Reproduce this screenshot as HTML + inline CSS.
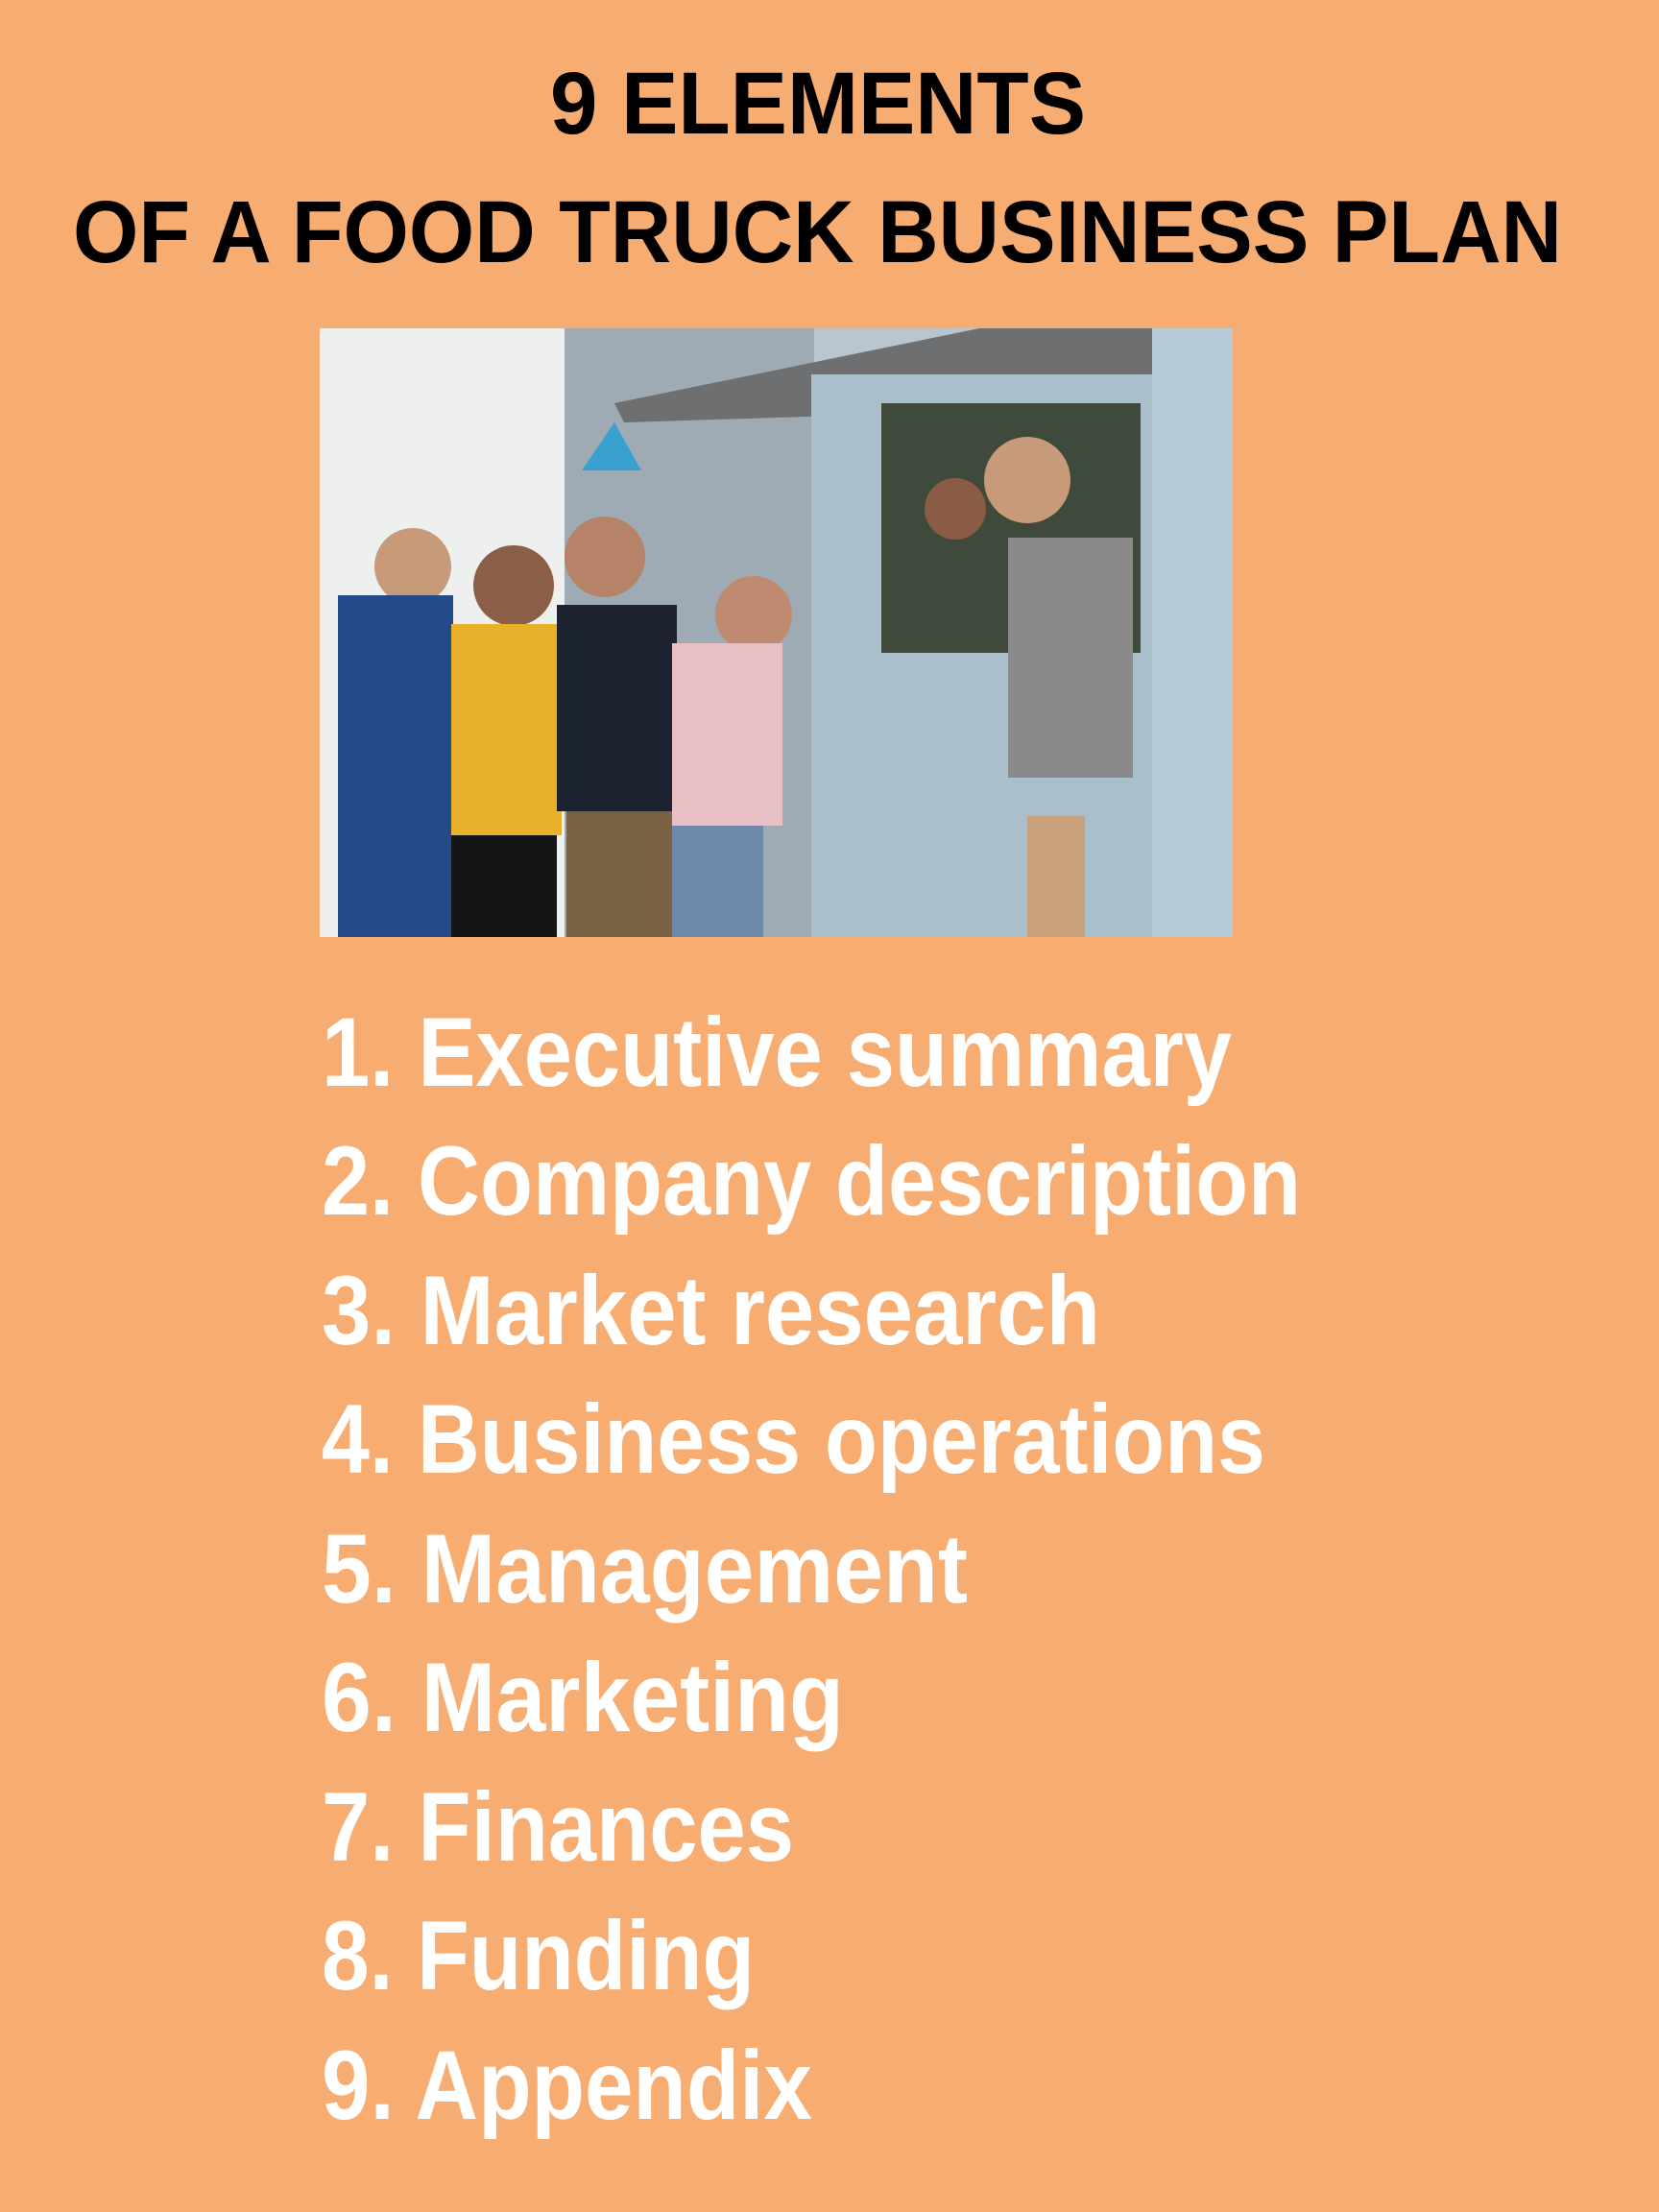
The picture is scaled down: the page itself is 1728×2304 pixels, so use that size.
<!DOCTYPE html>
<html><head><meta charset="utf-8"><style>
html,body{margin:0;padding:0;background:#F7AD71;}
svg{display:block}
</style></head><body>
<svg width="1728" height="2304" viewBox="0 0 1728 2304" xmlns="http://www.w3.org/2000/svg">
<rect width="1728" height="2304" fill="#F7AD71"/>
<g font-family="Liberation Sans, sans-serif" font-weight="bold" fill="#000">
<text x="573" y="139" font-size="92" textLength="558" lengthAdjust="spacingAndGlyphs">9 ELEMENTS</text>
<text x="76" y="273" font-size="92" textLength="1551" lengthAdjust="spacingAndGlyphs">OF A FOOD TRUCK BUSINESS PLAN</text>
</g>
<g>
<clipPath id="pc"><rect x="333" y="342" width="951" height="634"/></clipPath>
<g clip-path="url(#pc)">
<rect x="333" y="342" width="951" height="634" fill="#b9c6cf"/>
<rect x="333" y="342" width="255" height="634" fill="#eef0f0"/>
<rect x="588" y="342" width="260" height="634" fill="#9eabb4"/>
<polygon points="640,420 1020,342 1284,342 1284,420 650,440" fill="#6d6f70"/>
<rect x="845" y="390" width="439" height="586" fill="#a9c0cc"/>
<rect x="918" y="420" width="270" height="260" fill="#3f4a3c"/>
<rect x="1200" y="342" width="84" height="634" fill="#b7cbd6"/>
<rect x="840" y="1230" width="444" height="120" fill="#6a4a35"/>
<rect x="1070" y="850" width="60" height="230" fill="#c9a27d"/>
<rect x="1100" y="1300" width="40" height="140" fill="#f2c419"/>
<rect x="1030" y="1270" width="30" height="170" fill="#cf2b2b"/>
<circle cx="1070" cy="500" r="45" fill="#c79a7a"/>
<rect x="1050" y="560" width="130" height="250" fill="#8a8a8a"/>
<circle cx="995" cy="530" r="32" fill="#8a5c45"/>
<circle cx="430" cy="590" r="40" fill="#c79a7a"/>
<rect x="352" y="620" width="120" height="356" fill="#254a8a"/>
<circle cx="535" cy="610" r="42" fill="#8b5e48"/>
<rect x="470" y="650" width="115" height="220" fill="#e9b12a"/>
<rect x="470" y="870" width="110" height="106" fill="#151515"/>
<circle cx="630" cy="580" r="42" fill="#b68268"/>
<rect x="580" y="630" width="125" height="215" fill="#1d2230"/>
<rect x="590" y="845" width="110" height="131" fill="#7a6142"/>
<circle cx="785" cy="640" r="40" fill="#c08a70"/>
<rect x="700" y="670" width="115" height="190" fill="#e8bfc4"/>
<rect x="700" y="860" width="95" height="116" fill="#6d88a8"/>
<polygon points="606,490 640,440 668,490" fill="#3aa0d0"/>
</g>
</g>
<g font-family="Liberation Sans, sans-serif" font-weight="bold" fill="#ffffff" font-size="102">
<text x="335" y="1131" textLength="948" lengthAdjust="spacingAndGlyphs">1. Executive summary</text>
<text x="335" y="1265" textLength="1020" lengthAdjust="spacingAndGlyphs">2. Company description</text>
<text x="335" y="1400" textLength="811" lengthAdjust="spacingAndGlyphs">3. Market research</text>
<text x="335" y="1534" textLength="983" lengthAdjust="spacingAndGlyphs">4. Business operations</text>
<text x="335" y="1669" textLength="673" lengthAdjust="spacingAndGlyphs">5. Management</text>
<text x="335" y="1803" textLength="544" lengthAdjust="spacingAndGlyphs">6. Marketing</text>
<text x="335" y="1938" textLength="492" lengthAdjust="spacingAndGlyphs">7. Finances</text>
<text x="335" y="2072" textLength="451" lengthAdjust="spacingAndGlyphs">8. Funding</text>
<text x="335" y="2207" textLength="511" lengthAdjust="spacingAndGlyphs">9. Appendix</text>
</g>
</svg>
</body></html>
